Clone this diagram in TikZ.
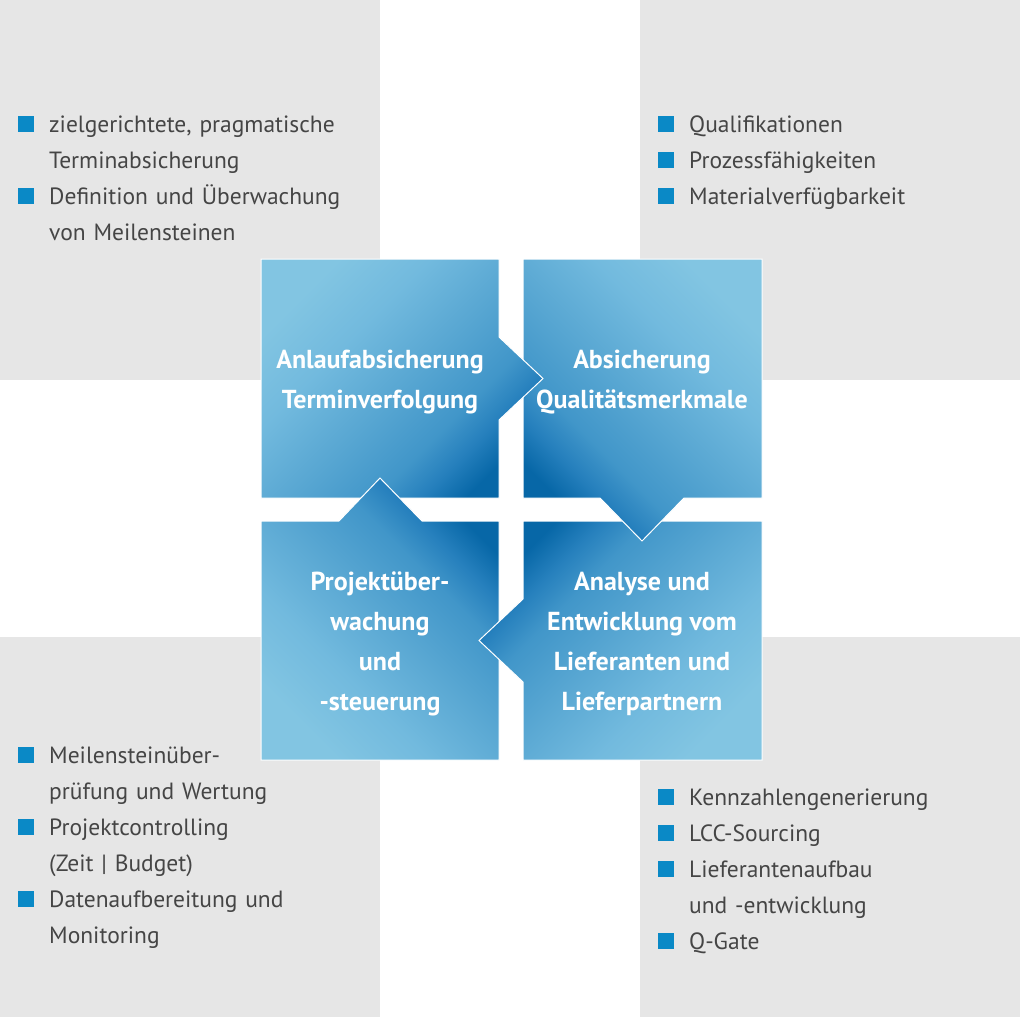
\documentclass[tikz,border=0pt]{standalone}
\usepackage{fontspec}
\setmainfont{PT Sans}
\definecolor{bgray}{HTML}{E6E6E6}
\definecolor{txt}{HTML}{454545}
\definecolor{bulletblue}{HTML}{0A89C6}
\definecolor{blight}{HTML}{82C5E2}
\definecolor{bq1}{HTML}{72BADE}
\definecolor{bmid}{HTML}{5AA8D3}
\definecolor{bq3}{HTML}{4196C9}
\definecolor{bq7}{HTML}{2680BD}
\definecolor{bdark}{HTML}{0767A7}
\pgfdeclareverticalshading{tileshade}{100bp}{color(0bp)=(bdark); color(25bp)=(bdark); color(31.25bp)=(bq7); color(37.5bp)=(bq3); color(50bp)=(bmid); color(62.5bp)=(bq1); color(75bp)=(blight); color(100bp)=(blight)}
\tikzset{
  panel/.style={fill=bgray, draw=none},
  tile/.style={shading=tileshade, draw=white, line width=1pt, line join=miter},
  tiletext/.style={text=white, font=\fontsize{26}{40}\selectfont\bfseries, align=center, inner sep=0pt},
  itemtext/.style={text=txt, font=\fontsize{23.5}{36}\selectfont, text width=340pt, align=left, anchor=base west, inner sep=0pt},
  bulletsq/.style={fill=bulletblue, draw=none}
}
\begin{document}
\begin{tikzpicture}[x=1pt,y=-1pt]
\useasboundingbox (0,0) rectangle (1020,1020);
% grey panels
\fill[panel] (0,0) rectangle (380,380);
\fill[panel] (640,0) rectangle (1020,380);
\fill[panel] (0,637) rectangle (380,1017);
\fill[panel] (640,637) rectangle (1020,1017);
% tiles
\def\tlpath{(261,259) -- (499,259) -- (499,337) -- (543,378.5) -- (499,420) -- (499,498) -- (261,498) -- cycle}
\shade[tile, shading angle=45] \tlpath;
\shade[tile, shading angle=135] (261,521) -- (339,521) -- (380,478) -- (422,521) -- (499,521) -- (499,760) -- (261,760) -- cycle;
\shade[tile, shading angle=-135] (523,521) -- (762,521) -- (762,760) -- (523,760) -- (523,682) -- (479,640.5) -- (523,599) -- cycle;
\shade[tile, shading angle=-45] (523,259) -- (762,259) -- (762,498) -- (684,498) -- (642,541) -- (600,498) -- (523,498) -- cycle;
\begin{scope}
  \clip (500,300) rectangle (560,460);
  \shade[tile, shading angle=45] \tlpath;
\end{scope}
% tile texts
\node[tiletext] (tl) at (380,382) {Anlaufabsicherung\\Terminverfolgung};
\node[tiletext] (tr) at (642,382) {Absicherung\\Qualitätsmerkmale};
\node[tiletext] (bl) at (380,644) {Projektüber-\\wachung\\und\\-steuerung};
\node[tiletext] (br) at (642,644) {Analyse und\\Entwicklung vom\\Lieferanten und\\Lieferpartnern};
% top-left list
\fill[bulletsq] (18,116) rectangle (34,132);
\node[itemtext] (tl1) at (49,132) {zielgerichtete, pragmatische\\Terminabsicherung};
\fill[bulletsq] (18,188) rectangle (34,204);
\node[itemtext] (tl2) at (49,204) {Definition und Überwachung\\von Meilensteinen};
% top-right list
\fill[bulletsq] (658,116) rectangle (674,132);
\node[itemtext] (tr1) at (689,132) {Qualifikationen};
\fill[bulletsq] (658,152) rectangle (674,168);
\node[itemtext] (tr2) at (689,168) {Prozessfähigkeiten};
\fill[bulletsq] (658,188) rectangle (674,204);
\node[itemtext] (tr3) at (689,204) {Materialverfügbarkeit};
% bottom-left list
\fill[bulletsq] (18,747) rectangle (34,763);
\node[itemtext] (bl1) at (49,763) {Meilensteinüber-\\prüfung und Wertung};
\fill[bulletsq] (18,819) rectangle (34,835);
\node[itemtext] (bl2) at (49,835) {Projektcontrolling\\(Zeit | Budget)};
\fill[bulletsq] (18,891) rectangle (34,907);
\node[itemtext] (bl3) at (49,907) {Datenaufbereitung und\\Monitoring};
% bottom-right list
\fill[bulletsq] (658,789) rectangle (674,805);
\node[itemtext] (br1) at (689,805) {Kennzahlengenerierung};
\fill[bulletsq] (658,825) rectangle (674,841);
\node[itemtext] (br2) at (689,841) {LCC-Sourcing};
\fill[bulletsq] (658,861) rectangle (674,877);
\node[itemtext] (br3) at (689,877) {Lieferantenaufbau\\und -entwicklung};
\fill[bulletsq] (658,933) rectangle (674,949);
\node[itemtext] (br4) at (689,949) {Q-Gate};
\end{tikzpicture}
\end{document}
